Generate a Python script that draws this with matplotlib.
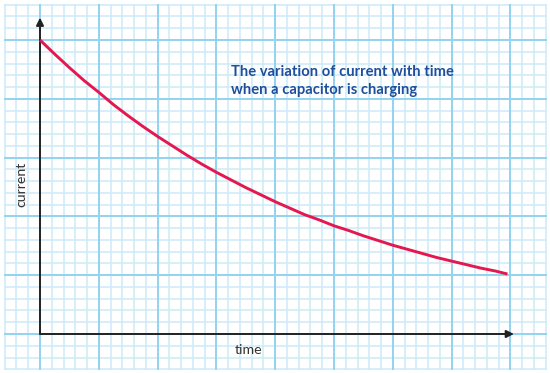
import numpy as np
import matplotlib
matplotlib.use("Agg")
import matplotlib.pyplot as plt

# curve, in major grid squares
time_vals = [0, 0.25, 0.5, 0.75, 1, 1.25, 1.5, 1.75, 2, 2.25, 2.5, 2.75,
             3, 3.25, 3.5, 3.75, 4, 4.25, 4.5, 4.75, 5, 5.25, 5.5, 5.75,
             6, 6.25, 6.5, 6.75, 7, 7.25, 7.5, 7.75, 7.95]
current_vals = [5.0, 4.76, 4.53, 4.31, 4.11, 3.90, 3.71, 3.53, 3.36, 3.20,
                3.04, 2.89, 2.75, 2.62, 2.49, 2.37, 2.25, 2.14, 2.03, 1.94,
                1.84, 1.76, 1.67, 1.59, 1.51, 1.44, 1.37, 1.30, 1.24, 1.18,
                1.12, 1.07, 1.02]

title_txt = "The variation of current with time\nwhen a capacitor is charging"
x_label = "time"
y_label = "current"

fig = plt.figure(figsize=(5.5, 3.73), dpi=100)
ax = fig.add_axes([0, 0, 1, 1])
ax.set_xlim(-40 / 58.8, 510 / 58.8)
ax.set_ylim(-39 / 58.8, 334 / 58.8)
ax.axis("off")

# graph paper
minor_c = "#cdebf8"
major_c = "#92d3f0"
gx = np.round(np.arange(-0.6, 8.61, 0.2), 2)
gy = np.round(np.arange(-0.6, 5.61, 0.2), 2)
for v in gx:
    major = abs(v - round(v)) < 1e-6
    ax.plot([v, v], [-0.6, 5.6], color=major_c if major else minor_c,
            lw=1.4 if major else 1.1, zorder=1 if major else 0)
for v in gy:
    major = abs(v - round(v)) < 1e-6
    ax.plot([-0.6, 8.6], [v, v], color=major_c if major else minor_c,
            lw=1.4 if major else 1.1, zorder=1 if major else 0)

# axes with arrows
ax.annotate("", xy=(0, 5.38), xytext=(0, 0),
            arrowprops=dict(arrowstyle="-|>", color="#222222", lw=1.4,
                            mutation_scale=11, shrinkA=0, shrinkB=0), zorder=3)
ax.annotate("", xy=(8.06, 0), xytext=(0, 0),
            arrowprops=dict(arrowstyle="-|>", color="#222222", lw=1.4,
                            mutation_scale=11, shrinkA=0, shrinkB=0), zorder=3)

ax.plot(time_vals, current_vals, color="#e5174f", lw=2.1, zorder=4,
        solid_capstyle="butt", solid_joinstyle="round")

ax.text(3.25, 4.58, title_txt, color="#1f4e9c", fontsize=10.6,
        fontweight="bold", family=["Lato", "DejaVu Sans"],
        ha="left", va="top", linespacing=1.35, zorder=5)
ax.text(3.55, -0.27, x_label, color="#333333", fontsize=10.2,
        family=["Lato", "DejaVu Sans"], ha="center", va="center", zorder=5)
ax.text(-0.31, 2.55, y_label, color="#333333", fontsize=10.2, rotation=90,
        family=["Lato", "DejaVu Sans"], ha="center", va="center", zorder=5)

fig.savefig("out.png", dpi=100)
